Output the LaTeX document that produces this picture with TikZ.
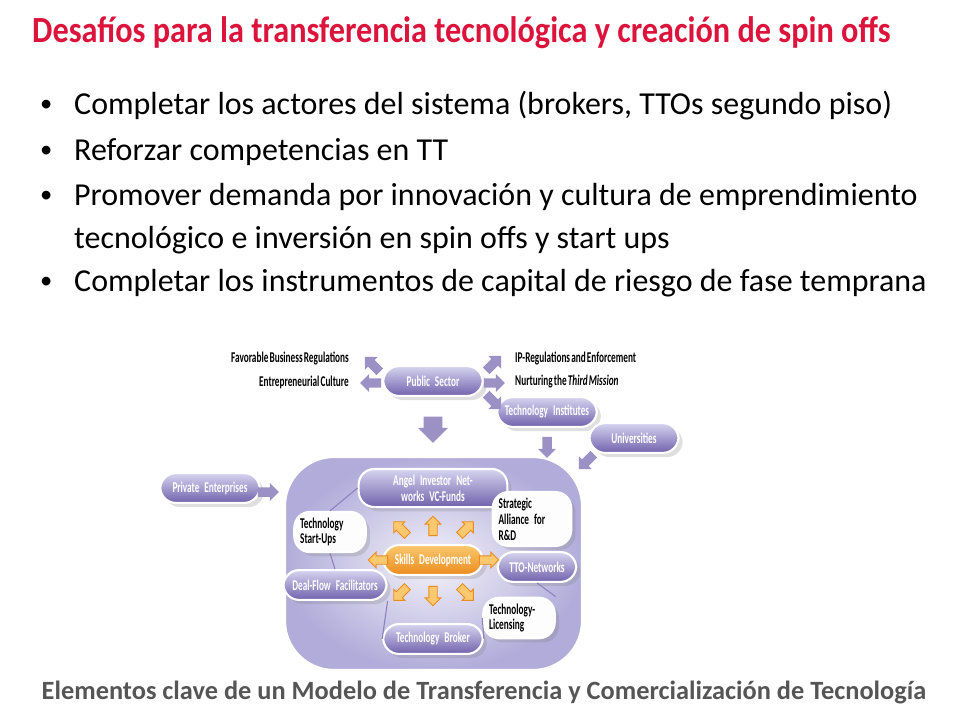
\documentclass[tikz,border=0pt]{standalone}
\usepackage{fontspec}
\setmainfont{Carlito}
\newfontfamily\diagfont[FakeStretch=0.62,WordSpace=0.55]{Carlito}
\newfontfamily\titlefont[FakeStretch=0.875]{Carlito}
\usetikzlibrary{shapes.arrows,shadows}
\definecolor{titlered}{RGB}{220,20,60}
\definecolor{lavlight}{RGB}{215,212,240}
\definecolor{lavdark}{RGB}{112,98,172}
\definecolor{lavbox}{RGB}{178,172,218}
\definecolor{orlight}{RGB}{250,200,110}
\definecolor{ordark}{RGB}{236,140,30}
\definecolor{captgray}{RGB}{85,85,85}
\tikzset{
  pill/.style={rounded corners=9pt, minimum height=17pt, text width=#1, align=center,
    top color=lavlight, bottom color=lavdark, draw=white, line width=1.2pt,
    drop shadow={opacity=0.25}, text=white, font=\diagfont\bfseries\fontsize{8.5}{9}\selectfont},
  pill/.default=40pt,
  wpill/.style={rounded corners=9pt, minimum height=19pt, text width=#1, align=left,
    fill=white!95!lavlight, draw=white, line width=1.2pt, drop shadow={opacity=0.25},
    text=black, font=\diagfont\bfseries\fontsize{8.5}{9}\selectfont},
  wpill/.default=26pt,
  blab/.style={font=\diagfont\bfseries\fontsize{8.5}{9}\selectfont},
  barrow/.style={single arrow, minimum height=12pt, minimum width=10pt, single arrow head extend=2.5pt,
    inner sep=2.5pt, fill=lavdark!70, draw=none},
  oarrow/.style={single arrow, minimum height=11pt, minimum width=9pt, single arrow head extend=2pt,
    inner sep=2pt, fill=orlight, draw=ordark, line width=0.5pt},
  link/.style={draw=lavdark!80, line width=0.6pt},
}
\begin{document}
\begin{tikzpicture}[x=0.02cm,y=-0.02cm]
\useasboundingbox (0,0) rectangle (960,720);
% title and bullets
\node[anchor=west, text=titlered, font=\titlefont\bfseries\fontsize{21}{24}\selectfont] (title) at (26,33)
  {Desafíos para la transferencia tecnológica y creación de spin offs};
\foreach \y/\txt in {106/{Completar los actores del sistema (brokers, TTOs segundo piso)},
  152/{Reforzar competencias en TT},
  197/{Promover demanda por innovación y cultura de emprendimiento},
  283/{Completar los instrumentos de capital de riesgo de fase temprana}}{
  \node[anchor=west, font=\fontsize{14}{17}\selectfont] at (34,\y) {\textbullet};
  \node[anchor=west, font=\fontsize{18.2}{21}\selectfont] at (68,\y) {\txt};
}
\node[anchor=west, font=\fontsize{18.2}{21}\selectfont] (cont) at (68,240)
  {tecnológico e inversión en spin offs y start ups};

% container
\shade[inner color=white!85!lavbox, outer color=lavbox, rounded corners=28pt, draw=white, line width=1.2pt]
  (285,457) rectangle (582,670);

% outer actors
\node[pill=50pt] (public) at (433,381) {Public Sector};
\node[pill=50pt] (techinst) at (547,412) {Technology Institutes};
\node[pill=44pt] (univ) at (634,438) {Universities};
\node[pill=50pt] (private) at (210,488) {Private Enterprises};
\node[blab, anchor=east] (favor) at (355,359) {Favorable Business Regulations};
\node[blab, anchor=east] (entre) at (355,382) {Entrepreneurial Culture};
\node[blab, anchor=west] (ipreg) at (509,359) {IP-Regulations and Enforcement};
\node[blab, anchor=west] (nurt) at (509,382) {Nurturing the \textit{Third Mission}};

\node[barrow, rotate=135] at (374,366) {};
\node[barrow, rotate=180] at (373,383) {};
\node[barrow, rotate=45] at (492,365) {};
\node[barrow] at (492,383) {};
\node[barrow, rotate=-45] at (492,400) {};
\node[barrow, rotate=-90, minimum height=15pt, minimum width=17pt, inner sep=4pt] at (433,425) {};
\node[barrow, rotate=-90] at (547,445) {};
\node[barrow, rotate=-135] at (588,460) {};
\node[barrow] at (266,492) {};

% inner actors
\node[pill=78pt] (angel) at (433,488) {Angel Investor Networks VC-Funds};
\node[wpill=38pt] (alliance) at (532,519) {Strategic\\Alliance for R\&D};
\node[wpill=34pt] (startups) at (330,532) {Technology\\Start-Ups};
\node[pill=50pt, top color=orlight, bottom color=ordark] (skills) at (433,560) {Skills Development};
\node[pill=38pt] (tto) at (537,567) {TTO-Networks};
\node[pill=52pt] (dealflow) at (335,585) {Deal-Flow Facilitators};
\node[wpill=34pt] (licensing) at (519,618) {Technology-\\Licensing};
\node[pill=50pt] (broker) at (433,639) {Technology Broker};

\draw[link] (angel.west) -- (startups.north);
\draw[link] (startups.south) -- (dealflow.north);
\draw[link] (dealflow.south east) -- (broker.west);
\draw[link] (broker.east) -- (licensing.west);
\draw[link] (licensing.north east) -- (tto.south);

\foreach \a/\x/\y in {0/487/560, 45/465/530, 90/433/528, 135/402/530,
  180/380/560, 225/402/592, 270/433/594, 315/465/592}
  \node[oarrow, rotate=\a] at (\x,\y) {};

% caption
\node[text=captgray, font=\bfseries\fontsize{15}{17}\selectfont] (caption) at (484,692)
  {Elementos clave de un Modelo de Transferencia y Comercialización de Tecnología};
\end{tikzpicture}
\end{document}
